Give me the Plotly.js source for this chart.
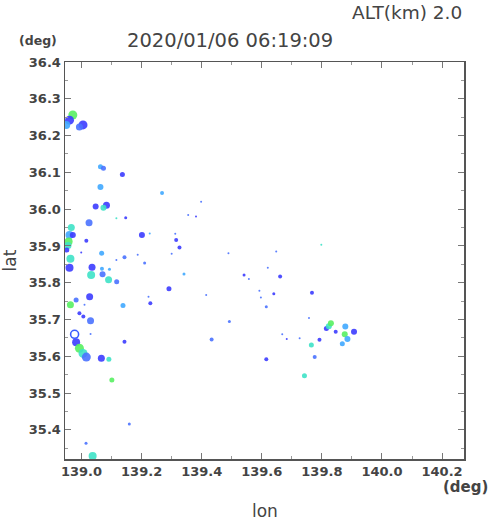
<!DOCTYPE html>
<html>
<head>
<meta charset="utf-8">
<script src="https://cdn.plot.ly/plotly-3.0.1.min.js"></script>
<style>html,body{margin:0;padding:0;background:#fff;}#chart{width:490px;height:521px;}</style>
</head>
<body>
<div id="chart"></div>
<script>
// Echo cells: longitude, latitude, apparent size, intensity level (0=blue .. 4=green)
const lon = [138.971,138.960,138.949,139.005,138.993,139.063,139.073,139.136,139.063,139.268,
  139.047,139.083,139.073,139.116,139.147,139.025,138.966,138.960,138.971,138.957,
  138.955,138.951,139.016,139.201,139.227,138.963,138.960,138.999,139.067,139.116,
  139.143,139.187,139.210,139.035,139.032,139.068,139.070,139.093,139.090,139.117,
  138.982,139.027,138.963,139.010,139.138,139.223,139.229,138.993,139.006,139.030,
  139.030,139.143,138.982,138.993,139.005,139.016,139.066,139.091,139.101,139.159,
  139.015,139.037,139.398,139.355,139.381,139.312,139.315,139.326,139.300,139.489,
  139.648,139.620,139.541,139.557,139.661,139.341,139.291,139.415,139.592,139.640,
  139.597,139.615,139.767,139.492,139.433,139.615,139.798,139.668,139.683,139.726,
  139.757,139.815,139.823,139.830,139.878,139.846,139.907,139.876,139.885,139.868,
  139.792,139.765,139.776,139.742];
const lat = [36.256,36.242,36.229,36.229,36.223,36.115,36.111,36.094,36.060,36.044,
  36.007,36.011,36.004,35.975,35.977,35.963,35.950,35.930,35.930,35.912,
  35.901,35.889,35.914,35.930,35.934,35.865,35.841,35.882,35.880,35.862,
  35.869,35.876,35.854,35.842,35.821,35.838,35.823,35.837,35.808,35.803,
  35.753,35.762,35.740,35.740,35.738,35.762,35.744,35.717,35.708,35.697,
  35.661,35.640,35.638,35.622,35.608,35.598,35.595,35.592,35.536,35.416,
  35.364,35.329,36.020,35.984,35.980,35.933,35.916,35.896,35.879,35.880,
  35.885,35.841,35.821,35.810,35.817,35.824,35.784,35.767,35.778,35.770,
  35.760,35.735,35.773,35.695,35.646,35.592,35.903,35.660,35.647,35.649,
  35.704,35.676,35.682,35.690,35.681,35.667,35.667,35.660,35.647,35.634,
  35.645,35.631,35.598,35.547];
const cellSize = [9,9,8,9,7,5,5,5,6,4,
  6,7,6,2,3,7,7,8,6,8,
  7,5,4,6,2,8,8,2,5,2,
  4,2,3,7,8,4,6,3,7,5,
  5,7,7,2,5,2,4,4,4,7,
  2,4,8,9,9,9,7,5,5,3,
  3,8,2,2,2,2,4,4,2,2,
  2,2,3,2,4,3,5,2,2,3,
  2,3,4,3,4,4,2,2,2,2,
  2,5,6,6,6,4,6,6,6,5,
  4,5,4,5];
const level = [4,0,2,0,1,2,1,0,2,2,
  0,0,3,3,0,1,3,2,0,4,
  3,0,0,0,2,3,0,0,2,1,
  1,1,1,0,3,2,1,2,3,1,
  1,0,4,1,2,1,0,0,0,1,
  1,0,0,4,3,1,0,3,4,1,
  1,3,1,1,0,1,0,0,1,1,
  1,1,0,1,0,2,0,1,1,0,
  1,1,0,1,1,0,3,1,0,1,
  1,0,3,4,2,0,0,4,2,2,
  0,3,1,3];
// Hollow ring cell
const ringLon = [138.977];
const ringLat = [35.660];

const palette = ['#3c3cff','#4a72ff','#40a8ff','#3ee2c6','#58ef62'];
const xTicks = [139.0,139.2,139.4,139.6,139.8,140.0,140.2];
const yTicks = [35.4,35.5,35.6,35.7,35.8,35.9,36.0,36.1,36.2,36.3,36.4];

const traces = [
  {type:'scatter', mode:'markers', x:lon, y:lat,
   marker:{size:cellSize, color:level.map(l=>palette[l]), opacity:0.9, line:{width:0}},
   hoverinfo:'x+y'},
  {type:'scatter', mode:'markers', x:ringLon, y:ringLat,
   marker:{size:8, symbol:'circle-open', color:'#3c5cff', line:{width:1.6}}, hoverinfo:'x+y'}
];

const F = 'DejaVu Sans, Verdana, sans-serif';
const axisCommon = {
  showline:true, linecolor:'#555', linewidth:1.5, mirror:'allticks',
  ticks:'inside', ticklen:6, tickcolor:'#777', tickwidth:1,
  showgrid:false, zeroline:false,
  tickfont:{family:F, size:13, color:'#444', weight:'bold'}
};

const layout = {
  width:490, height:521,
  margin:{l:65, r:26, t:62, b:62},
  paper_bgcolor:'#fff', plot_bgcolor:'#fff',
  showlegend:false,
  xaxis:Object.assign({}, axisCommon, {
    range:[138.945,140.273], tickmode:'array', tickvals:xTicks,
    ticktext:xTicks.map(v=>v.toFixed(1)),
    minor:{ticks:'inside', ticklen:3, tickcolor:'#999', dtick:0.1, tick0:139.0}
  }),
  yaxis:Object.assign({}, axisCommon, {
    range:[35.321,36.4], tickmode:'array', tickvals:yTicks,
    ticktext:yTicks.map(v=>v.toFixed(1)),
    minor:{ticks:'inside', ticklen:3, tickcolor:'#999', dtick:0.05, tick0:35.4}
  }),
  annotations:[
    {text:'2020/01/06 06:19:09', xref:'paper', yref:'paper', x:(230-65)/399, y:1+(62-40)/397,
     xanchor:'center', yanchor:'middle', showarrow:false,
     font:{family:F, size:19.5, color:'#444'}},
    {text:'ALT(km) 2.0', xref:'paper', yref:'paper', x:(464-65)/399, y:1+(62-12)/397,
     xanchor:'right', yanchor:'middle', showarrow:false,
     font:{family:F, size:18.5, color:'#444'}},
    {text:'(deg)', xref:'paper', yref:'paper', x:(17-65)/399, y:1+(62-41)/397,
     xanchor:'left', yanchor:'middle', showarrow:false,
     font:{family:F, size:12.5, color:'#444', weight:'bold'}},
    {text:'(deg)', xref:'paper', yref:'paper', x:(490-65)/399, y:-(487-459)/397,
     xanchor:'right', yanchor:'middle', showarrow:false,
     font:{family:F, size:15, color:'#444', weight:'bold'}},
    {text:'lon', xref:'paper', yref:'paper', x:0.5, y:-(511-459)/397,
     xanchor:'center', yanchor:'middle', showarrow:false,
     font:{family:F, size:17, color:'#444'}},
    {text:'lat', xref:'paper', yref:'paper', x:(9-65)/399, y:0.5, textangle:-90,
     xanchor:'center', yanchor:'middle', showarrow:false,
     font:{family:F, size:17, color:'#444'}}
  ]
};

Plotly.newPlot('chart', traces, layout, {staticPlot:true, displayModeBar:false});
</script>
</body>
</html>
